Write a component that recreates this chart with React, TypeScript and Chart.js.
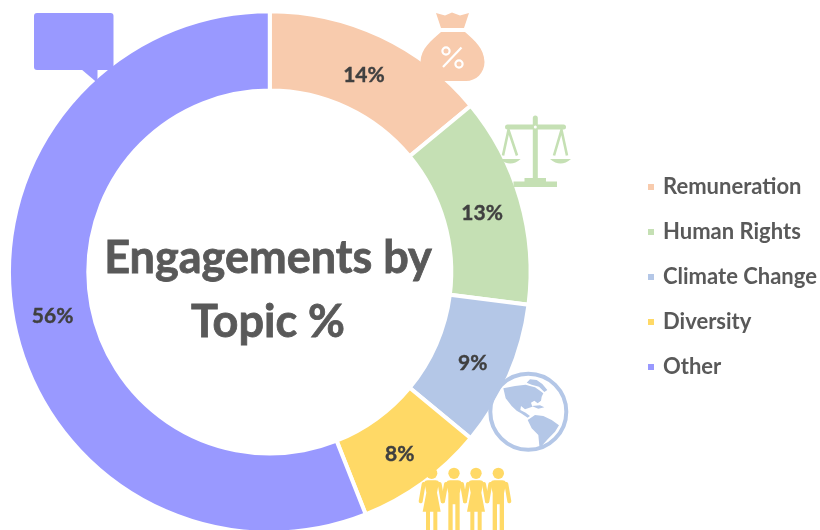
import React, { useEffect, useRef } from "react";
import { Chart, registerables } from "chart.js";

Chart.register(...registerables);

const topics = ["Remuneration", "Human Rights", "Climate Change", "Diversity", "Other"];
const shares = [14, 13, 9, 8, 56];
const sliceColors = ["#F8CBAD", "#C5E0B4", "#B4C7E7", "#FFD966", "#9999FF"];
const titleLines = ["Engagements by", "Topic %"];
const FONT = "Lato, Carlito, sans-serif";

const textPlugin = {
  id: "texts",
  afterDatasetsDraw(chart: any) {
    const ctx = chart.ctx as CanvasRenderingContext2D;
    const meta = chart.getDatasetMeta(0);
    ctx.save();
    ctx.textAlign = "center";
    ctx.textBaseline = "middle";
    ctx.fillStyle = "#404040";
    ctx.strokeStyle = "#404040";
    ctx.lineWidth = 0.4;
    ctx.font = `bold 21px ${FONT}`;
    meta.data.forEach((arc: any, i: number) => {
      const p = arc.getCenterPoint();
      ctx.fillText(`${shares[i]}%`, p.x, p.y + 3);
      ctx.strokeText(`${shares[i]}%`, p.x, p.y + 3);
    });
    ctx.fillStyle = "#595959";
    ctx.strokeStyle = "#595959";
    ctx.lineWidth = 0.8;
    ctx.font = `bold 45px ${FONT}`;
    titleLines.forEach((line, i) => {
      ctx.fillText(line, 268, 258 + i * 64);
      ctx.strokeText(line, 268, 258 + i * 64);
    });
    ctx.restore();
  },
};

function moneyBag(ctx: CanvasRenderingContext2D) {
  ctx.fillStyle = sliceColors[0];
  ctx.beginPath();
  ctx.moveTo(436, 13);
  ctx.lineTo(445, 15.5);
  ctx.lineTo(452, 12.5);
  ctx.lineTo(460, 15.5);
  ctx.lineTo(469, 13);
  ctx.lineTo(464, 28);
  ctx.lineTo(441, 28);
  ctx.closePath();
  ctx.fill();
  ctx.beginPath();
  ctx.moveTo(441, 32);
  ctx.lineTo(465, 32);
  ctx.bezierCurveTo(475, 41, 484, 48, 484.5, 62);
  ctx.bezierCurveTo(484.5, 73, 476, 81, 466, 81);
  ctx.lineTo(440, 81);
  ctx.bezierCurveTo(430, 81, 420.5, 73, 420.5, 62);
  ctx.bezierCurveTo(421, 48, 431, 41, 441, 32);
  ctx.closePath();
  ctx.fill();
  ctx.strokeStyle = "#fff";
  ctx.lineWidth = 2.2;
  ctx.beginPath();
  ctx.moveTo(461.5, 47.5);
  ctx.lineTo(443, 67);
  ctx.stroke();
  ctx.beginPath();
  ctx.arc(446, 51, 3.6, 0, Math.PI * 2);
  ctx.stroke();
  ctx.beginPath();
  ctx.arc(459, 64, 3.6, 0, Math.PI * 2);
  ctx.stroke();
}

function scales(ctx: CanvasRenderingContext2D) {
  ctx.fillStyle = sliceColors[1];
  ctx.strokeStyle = sliceColors[1];
  ctx.lineCap = "round";
  ctx.lineWidth = 5;
  ctx.beginPath();
  ctx.moveTo(535.3, 118);
  ctx.lineTo(535.3, 178);
  ctx.stroke();
  ctx.lineWidth = 5;
  ctx.beginPath();
  ctx.moveTo(507.5, 127);
  ctx.lineTo(563.5, 127);
  ctx.stroke();
  ctx.lineCap = "butt";
  ctx.lineWidth = 2.6;
  for (const [x0, x1, x2] of [[508.5, 503, 517], [561.5, 554, 567]]) {
    ctx.beginPath();
    ctx.moveTo(x1, 155.5);
    ctx.lineTo(x0, 130);
    ctx.lineTo(x2, 155.5);
    ctx.stroke();
  }
  for (const [a, b] of [[500, 520.7], [550, 571]]) {
    ctx.beginPath();
    ctx.moveTo(a, 159);
    ctx.quadraticCurveTo((a + b) / 2, 168, b, 159);
    ctx.closePath();
    ctx.fill();
  }
  ctx.fillRect(513.5, 181.5, 43.5, 5.5);
  ctx.fillRect(524.5, 178, 21.5, 4);
  ctx.fillStyle = "#fff";
  ctx.beginPath();
  ctx.arc(535.3, 127, 1.5, 0, Math.PI * 2);
  ctx.fill();
}

function globe(ctx: CanvasRenderingContext2D) {
  ctx.fillStyle = sliceColors[2];
  ctx.strokeStyle = sliceColors[2];
  ctx.lineWidth = 4;
  ctx.beginPath();
  ctx.arc(528.3, 411.7, 38, 0, Math.PI * 2);
  ctx.stroke();
  ctx.save();
  ctx.translate(485, 370);
  ctx.scale(1 / 3, 1 / 3);
  const poly = (pts: number[][]) => {
    ctx.beginPath();
    pts.forEach(([x, y], i) => (i ? ctx.lineTo(x, y) : ctx.moveTo(x, y)));
    ctx.closePath();
    ctx.fill();
  };
  poly([[55, 55], [90, 48], [122, 44], [135, 48], [150, 52], [165, 62], [175, 70], [170, 80], [168, 92], [158, 100], [148, 92], [138, 98], [142, 110], [120, 118], [108, 108], [106, 120], [122, 128], [135, 138], [128, 143], [108, 130], [95, 122], [80, 108], [62, 85]]);
  poly([[125, 38], [135, 28], [155, 30], [172, 42], [187, 60], [178, 66], [162, 50], [140, 44]]);
  poly([[108, 100], [120, 92], [132, 98], [128, 110], [115, 112]]);
  poly([[140, 108], [165, 106], [178, 112], [160, 116]]);
  poly([[128, 150], [150, 135], [175, 138], [200, 150], [222, 166], [210, 185], [188, 208], [170, 228], [163, 228], [160, 195], [140, 175]]);
  ctx.restore();
}

function people(ctx: CanvasRenderingContext2D) {
  ctx.save();
  ctx.translate(415, 460);
  ctx.scale(1 / 3, 1 / 3);
  ctx.fillStyle = sliceColors[3];
  ctx.strokeStyle = sliceColors[3];
  ctx.lineCap = "round";
  const bodies: [number, boolean][] = [[50, true], [117, false], [183, true], [250, false]];
  for (const [cx, woman] of bodies) {
    ctx.beginPath();
    ctx.arc(cx, 40, 17, 0, Math.PI * 2);
    ctx.fill();
    ctx.lineWidth = 12;
    ctx.beginPath();
    ctx.moveTo(cx - 24, 72);
    ctx.lineTo(cx - 33, 124);
    ctx.moveTo(cx + 24, 72);
    ctx.lineTo(cx + 33, 124);
    ctx.stroke();
    ctx.beginPath();
    if (woman) {
      ctx.moveTo(cx - 22, 66);
      ctx.quadraticCurveTo(cx - 20, 61, cx - 12, 61);
      ctx.lineTo(cx + 12, 61);
      ctx.quadraticCurveTo(cx + 20, 61, cx + 22, 66);
      ctx.lineTo(cx + 16, 98);
      ctx.lineTo(cx + 27, 155);
      ctx.lineTo(cx + 17, 155);
      ctx.lineTo(cx + 17, 212);
      ctx.lineTo(cx + 5, 212);
      ctx.lineTo(cx + 5, 155);
      ctx.lineTo(cx - 5, 155);
      ctx.lineTo(cx - 5, 212);
      ctx.lineTo(cx - 17, 212);
      ctx.lineTo(cx - 17, 155);
      ctx.lineTo(cx - 27, 155);
      ctx.lineTo(cx - 16, 98);
    } else {
      ctx.moveTo(cx - 24, 68);
      ctx.quadraticCurveTo(cx - 20, 61, cx - 12, 61);
      ctx.lineTo(cx + 12, 61);
      ctx.quadraticCurveTo(cx + 20, 61, cx + 24, 68);
      ctx.lineTo(cx + 17, 100);
      ctx.lineTo(cx + 17, 212);
      ctx.lineTo(cx + 4, 212);
      ctx.lineTo(cx + 4, 133);
      ctx.lineTo(cx - 4, 133);
      ctx.lineTo(cx - 4, 212);
      ctx.lineTo(cx - 17, 212);
      ctx.lineTo(cx - 17, 100);
    }
    ctx.closePath();
    ctx.fill();
  }
  ctx.restore();
}

function bubble(ctx: CanvasRenderingContext2D) {
  ctx.fillStyle = sliceColors[4];
  ctx.beginPath();
  ctx.roundRect(34, 13, 79.5, 57, 3);
  ctx.fill();
  ctx.beginPath();
  ctx.moveTo(81, 69);
  ctx.lineTo(97.5, 83);
  ctx.lineTo(97.5, 69);
  ctx.closePath();
  ctx.fill();
}

const iconPlugin = {
  id: "icons",
  afterDatasetsDraw(chart: any) {
    const ctx = chart.ctx as CanvasRenderingContext2D;
    ctx.save();
    moneyBag(ctx);
    scales(ctx);
    globe(ctx);
    bubble(ctx);
    people(ctx);
    ctx.restore();
  },
};

const legendShiftPlugin = {
  id: "legendShift",
  afterLayout(chart: any) {
    const l = chart.legend;
    const dx = 627 - l.left;
    const dy = 153 - l.top;
    l.left += dx;
    l.right += dx;
    l.top += dy;
    l.bottom += dy;
    l.legendHitBoxes?.forEach((b: any) => {
      b.left += dx;
      b.top += dy;
    });
  },
};

export default function App() {
  const ref = useRef<HTMLCanvasElement>(null);
  useEffect(() => {
    const chart = new Chart(ref.current!, {
      type: "doughnut",
      data: {
        labels: topics,
        datasets: [
          {
            data: shares,
            backgroundColor: sliceColors,
            borderColor: "#ffffff",
            borderWidth: 4,
          },
        ],
      },
      options: {
        responsive: false,
        animation: false,
        cutout: "69.6%",
        layout: { padding: { left: 7, top: 9, bottom: 9, right: 87.5 } },
        plugins: {
          tooltip: { enabled: false },
          legend: {
            display: true,
            position: "right",
            align: "start",
            labels: {
              boxWidth: 2,
              boxHeight: 10,
              usePointStyle: true,
              pointStyle: "rect",
              padding: 23,
              color: "#595959",
              font: { family: FONT, size: 22, weight: "bold" },
            },
          },
        },
      },
      plugins: [iconPlugin, textPlugin, legendShiftPlugin],
    } as any);
    return () => chart.destroy();
  }, []);
  return (
    <div style={{ position: "fixed", left: 0, top: 0, width: 820, height: 530, overflow: "hidden", background: "#fff" }}>
      <canvas ref={ref} width={820} height={544} style={{ display: "block" }} />
    </div>
  );
}
